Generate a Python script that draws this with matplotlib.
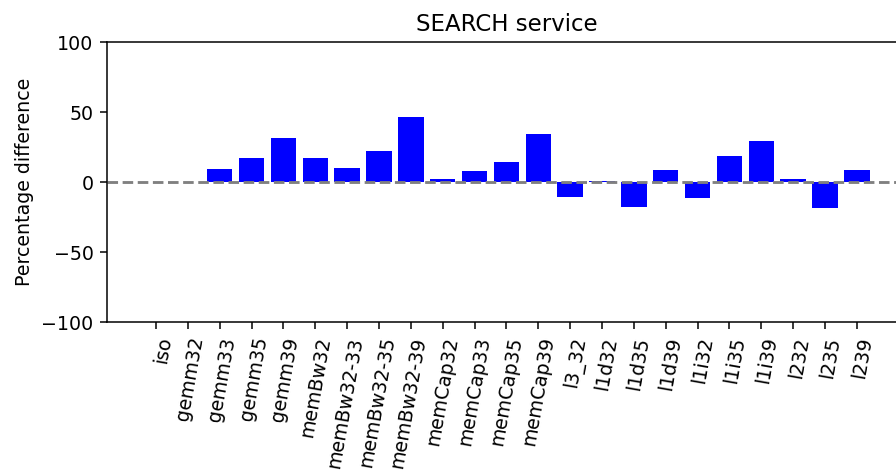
import matplotlib.pyplot as plt

labels = ["iso", "gemm32", "gemm33", "gemm35", "gemm39", "memBw32",
          "memBw32-33", "memBw32-35", "memBw32-39", "memCap32", "memCap33",
          "memCap35", "memCap39", "l3_32", "l1d32", "l1d35", "l1d39",
          "l1i32", "l1i35", "l1i39", "l232", "l235", "l239"]
diff = [0, 0, 9.3, 17.4, 31.2, 17.4, 10.2, 22.4, 46.4, 2.2, 7.6, 14.3,
        34.5, -10.7, 0.8, -17.6, 8.3, -11.6, 18.3, 29.5, 2.2, -18.6, 8.3]

dpi = 137
fig = plt.figure(figsize=(896 / dpi, 475 / dpi), dpi=dpi)
ax = fig.add_axes([0.1194, 0.322, 0.8917, 0.5895])

x = range(len(labels))
ax.bar(x, diff, color="blue")
ax.axhline(0, color="gray", linestyle="--")

ax.set_ylim(-100, 100)
ax.set_yticks([-100, -50, 0, 50, 100])
ax.set_xticks(list(x))
ax.set_xticklabels(labels, rotation=80, ha="right", rotation_mode="anchor")
ax.set_ylabel("Percentage difference")
ax.set_title("SEARCH service")

fig.savefig("out.png", dpi=dpi)
